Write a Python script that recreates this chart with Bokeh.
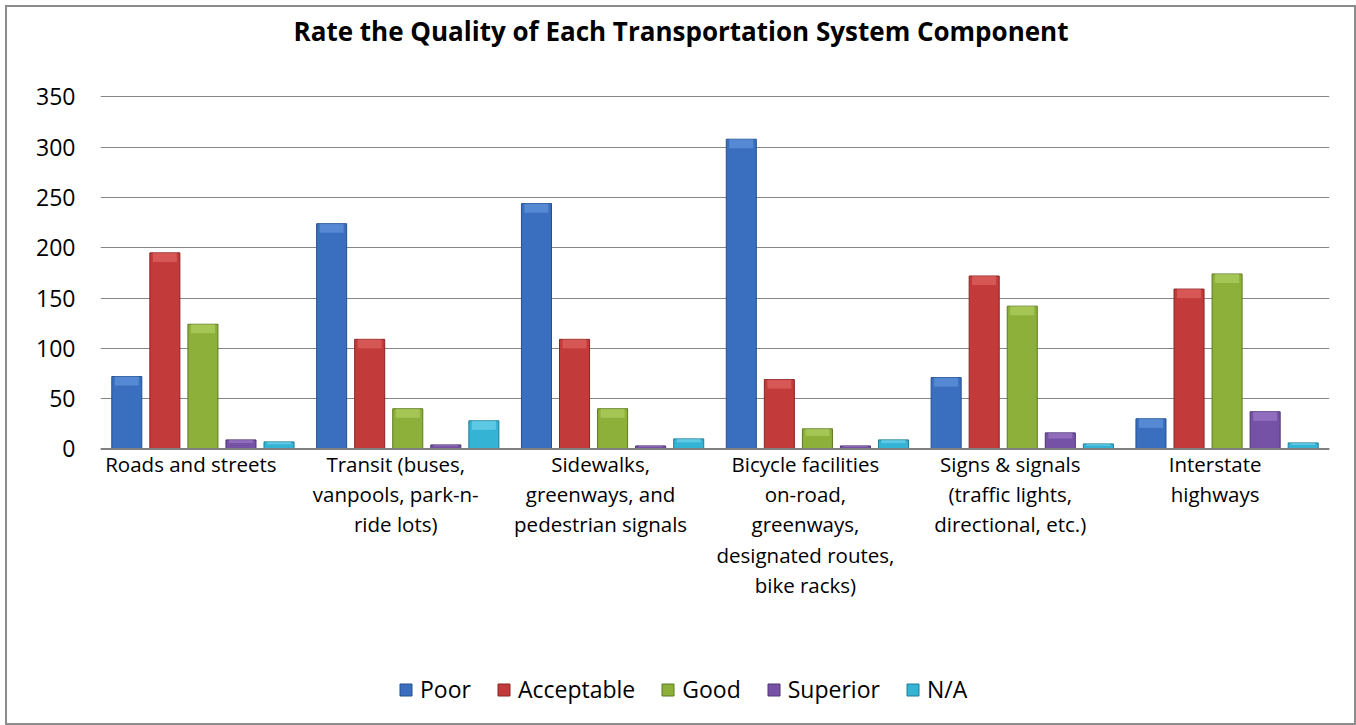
from bokeh.plotting import figure
from bokeh.models import Range1d, Label, Legend, LegendItem, FixedTicker, Span
from bokeh.embed import file_html
from bokeh.resources import INLINE

# ---- data ----
categories = ["Roads and streets",
              "Transit (buses, vanpools, park-n-ride lots)",
              "Sidewalks, greenways, and pedestrian signals",
              "Bicycle facilities on-road, greenways, designated routes, bike racks)",
              "Signs & signals (traffic lights, directional, etc.)",
              "Interstate highways"]
category_lines = [["Roads and streets"],
                  ["Transit (buses,", "vanpools, park-n-", "ride lots)"],
                  ["Sidewalks,", "greenways, and", "pedestrian signals"],
                  ["Bicycle facilities", "on-road,", "greenways,", "designated routes,", "bike racks)"],
                  ["Signs & signals", "(traffic lights,", "directional, etc.)"],
                  ["Interstate", "highways"]]
series_names = ["Poor", "Acceptable", "Good", "Superior", "N/A"]
poor = [72, 224, 244, 308, 71, 30]
acceptable = [195, 109, 109, 69, 172, 159]
good = [124, 40, 40, 20, 142, 174]
superior = [9, 4, 3, 3, 16, 37]
not_applicable = [7, 28, 10, 9, 5, 6]
y_ticks = [0, 50, 100, 150, 200, 250, 300, 350]
title_text = "Rate the Quality of Each Transportation System Component"

series_values = [poor, acceptable, good, superior, not_applicable]
fills = ["#3A6FBF", "#C23B3A", "#8DB03B", "#7652A6", "#35B3D5"]
lines = ["#24508F", "#8A2625", "#5D7A22", "#4E3475", "#1F7E98"]
caps = ["#6E9FE6", "#E8706C", "#BAD96A", "#A585D0", "#7FDBF2"]

FONT = "Open Sans"
W, H = 1351, 720
ZERO_PX = 439          # pixel row of the value 0, from the top of the plot area

p = figure(width=W, height=H, x_range=Range1d(0, len(categories)),
           y_range=Range1d(-(H - 4 - ZERO_PX), ZERO_PX),
           output_backend="svg", toolbar_location=None,
           min_border_left=93, min_border_right=29,
           min_border_top=0, min_border_bottom=0)
p.margin = (5, 0, 0, 5)
p.styles = {"border": "2px solid #8C8C8C"}
p.outline_line_color = None
p.xaxis.visible = False
p.xgrid.grid_line_color = None
p.ygrid.grid_line_color = "#868686"
p.ygrid.grid_line_width = 1
p.yaxis.ticker = FixedTicker(ticks=y_ticks)
p.yaxis.axis_line_color = None
p.yaxis.major_tick_line_color = None
p.yaxis.minor_tick_line_color = None
p.yaxis.major_label_standoff = 19
p.yaxis.major_label_text_font = FONT
p.yaxis.major_label_text_font_size = "23px"
p.yaxis.major_label_text_color = "#000000"

p.add_layout(Span(location=0, dimension="width", line_color="#7F7F7F", line_width=2))

n = len(series_names)
step = 0.1858
bar_w = 0.1467
items = []
for j, (name, vals) in enumerate(zip(series_names, series_values)):
    xs = [i + 0.5 + (j - (n - 1) / 2) * step for i in range(len(categories))]
    r = p.vbar(x=xs, top=vals, bottom=0, width=bar_w, fill_color=fills[j],
               line_color=lines[j], line_width=1)
    cap_bottom = [max(v - min(9, v * 0.35), 0) for v in vals]
    p.vbar(x=xs, top=vals, bottom=cap_bottom, width=bar_w * 0.8,
           fill_color=caps[j], fill_alpha=0.55, line_color=None)
    items.append(LegendItem(label=name, renderers=[r]))

legend = Legend(items=items, orientation="horizontal", location=(298, 22),
                glyph_width=15, glyph_height=15, label_standoff=7, spacing=25,
                padding=0, margin=0, border_line_color=None,
                background_fill_alpha=0, label_text_font=FONT,
                label_text_font_size="23px", label_text_color="#000000")
p.add_layout(legend, "center")

for i, ls in enumerate(category_lines):
    for k, txt in enumerate(ls):
        p.add_layout(Label(x=i + 0.5, y=-15 - 30 * k, x_units="data", y_units="data",
                           x_offset=-12, text=txt, text_align="center",
                           text_baseline="middle", text_font=FONT,
                           text_font_size="20.5px", text_color="#000000"))

p.add_layout(Label(x=len(categories) / 2, y=416, x_units="data", y_units="data",
                   x_offset=-34, text=title_text, text_align="center",
                   text_baseline="middle", text_font=FONT, text_font_style="bold",
                   text_font_size="26px", text_color="#000000"))

open("out.html", "w").write(file_html(p, INLINE))
